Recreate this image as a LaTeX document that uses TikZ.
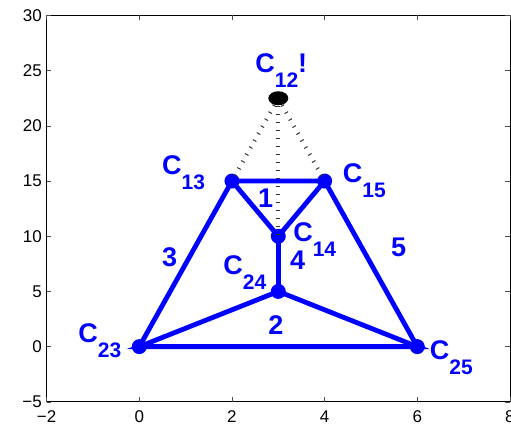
\documentclass[tikz,border=0pt]{standalone}
\usepackage{fontspec}
\setmainfont{Liberation Sans}
\newcommand{\clab}[1]{C\raisebox{-15pt}{\fontsize{21}{21}\selectfont #1}}

\begin{document}
\begin{tikzpicture}[x=46.33pt,y=11.04pt,
  edge/.style={line width=4.8pt, blue},
  vert/.style={circle, fill=blue, inner sep=0pt, minimum size=15pt},
  dots/.style={line width=4pt, black!80, dash pattern=on 1pt off 7pt},
  lab/.style={blue, anchor=base west, inner sep=0pt, font=\fontsize{27}{27}\selectfont\bfseries},
  ticklab/.style={inner sep=0pt, font=\fontsize{17}{17}\selectfont}]
\useasboundingbox (-3.007,-7.183) rectangle (8.023,31.40);
% axes
\draw[line width=0.8pt] (-2,-5) rectangle (8,30);
\foreach \x/\t in {-2/−2,0/0,2/2,4/4,6/6,8/8} {
  \draw[black!70] (\x,-5) -- ++(0,4.5pt);
  \draw[black!70] (\x,30) -- ++(0,-4.5pt);
  \node[ticklab, anchor=north] at (\x,-5.82) {\t};
}
\foreach \y/\t in {-5/−5,0/0,5/5,10/10,15/15,20/20,25/25,30/30} {
  \draw[black!70] (-2,\y) -- ++(4.5pt,0);
  \draw[black!70] (8,\y) -- ++(-4.5pt,0);
  \node[ticklab, anchor=east] at (-2.10,\y) {\t};
}
% vertices
\coordinate (c12) at (3,22.5);
\coordinate (c13) at (2,15);
\coordinate (c15) at (4,15);
\coordinate (c14) at (3,10);
\coordinate (c24) at (3,5);
\coordinate (c23) at (0,0);
\coordinate (c25) at (6,0);
% edges
\draw[edge] (c13) -- (c15) -- (c14) -- cycle;
\draw[edge] (c14) -- (c24);
\draw[edge] (c23) -- (c24) -- (c25) -- cycle;
\draw[edge] (c13) -- (c23);
\draw[edge] (c15) -- (c25);
\foreach \v in {c13,c15,c14,c24,c23,c25}
  \node[vert] at (\v) {};
% links to C12
\draw[dots] (c12) -- (c13);
\draw[dots] (c12) -- (c14);
\draw[dots] (c12) -- (c15);
\fill (c12) ellipse (10pt and 7pt);
% vertex labels
\node[lab] at (2.50,24.79) {\clab{12}!};
\node[lab] at (0.49,15.55) {\clab{13}};
\node[lab] at (4.39,14.83) {\clab{15}};
\node[lab] at (3.32,9.48) {\clab{14}};
\node[lab] at (1.81,6.49) {\clab{24}};
\node[lab] at (-1.32,0.34) {\clab{23}};
\node[lab] at (6.27,-1.20) {\clab{25}};
% face labels
\node[lab] at (2.56,12.56) {1};
\node[lab] at (2.78,1.06) {2};
\node[lab] at (0.49,7.22) {3};
\node[lab] at (3.25,6.95) {4};
\node[lab] at (5.43,8.12) {5};
\end{tikzpicture}
\end{document}
